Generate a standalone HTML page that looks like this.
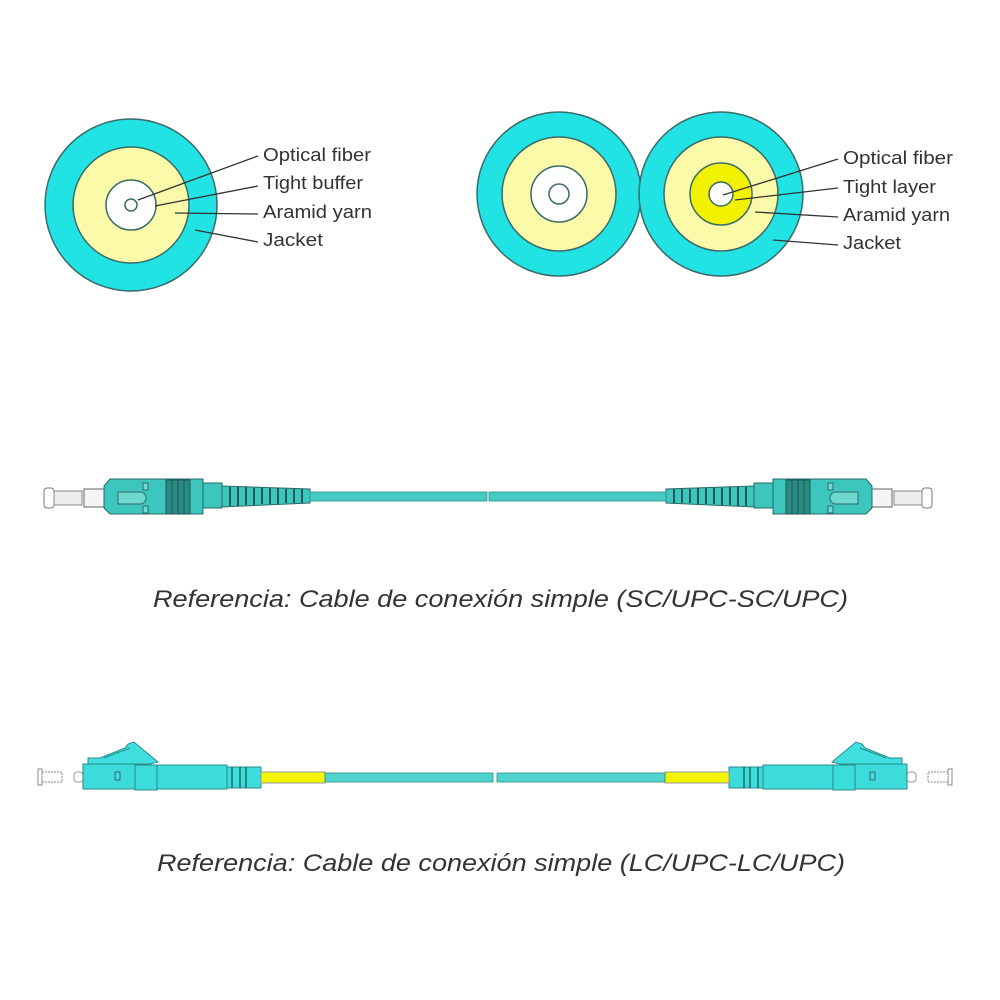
<!DOCTYPE html>
<html><head><meta charset="utf-8"><style>
html,body{margin:0;padding:0;background:#fff;}
svg{display:block;}
</style></head><body>
<svg width="1000" height="1000" viewBox="0 0 1000 1000" xmlns="http://www.w3.org/2000/svg">
<rect width="1000" height="1000" fill="#fff"/>
<g stroke="#3a6a6a" stroke-width="1.5">
<circle cx="131" cy="205" r="86" fill="#22e3e3"/>
<circle cx="131" cy="205" r="58" fill="#fafaa8"/>
<circle cx="131" cy="205" r="25" fill="#fff"/>
<circle cx="131" cy="205" r="6" fill="#fff"/>
</g>
<g stroke="#333" stroke-width="1.3" fill="none">
<line x1="138" y1="200" x2="258" y2="156"/>
<line x1="155" y1="206" x2="258" y2="186"/>
<line x1="175" y1="213" x2="258" y2="214"/>
<line x1="195" y1="230" x2="258" y2="242"/>
</g>
<g font-family="Liberation Sans, sans-serif" font-size="18" fill="#333" lengthAdjust="spacingAndGlyphs">
<text x="263" y="161" textLength="108" lengthAdjust="spacingAndGlyphs">Optical fiber</text>
<text x="263" y="189" textLength="100" lengthAdjust="spacingAndGlyphs">Tight buffer</text>
<text x="263" y="218" textLength="109" lengthAdjust="spacingAndGlyphs">Aramid yarn</text>
<text x="263" y="246" textLength="60" lengthAdjust="spacingAndGlyphs">Jacket</text>
</g>
<g stroke="#3a6a6a" stroke-width="1.5">
<circle cx="559" cy="194" r="82" fill="#22e3e3"/>
<circle cx="559" cy="194" r="57" fill="#fafaa8"/>
<circle cx="559" cy="194" r="28" fill="#fff"/>
<circle cx="559" cy="194" r="10" fill="#fff"/>
<circle cx="721" cy="194" r="82" fill="#22e3e3"/>
<circle cx="721" cy="194" r="57" fill="#fafaa8"/>
<circle cx="721" cy="194" r="31" fill="#f2f200"/>
<circle cx="721" cy="194" r="12" fill="#fff"/>
</g>
<g stroke="#333" stroke-width="1.3" fill="none">
<line x1="723" y1="195" x2="838" y2="159"/>
<line x1="735" y1="200" x2="838" y2="188"/>
<line x1="755" y1="212" x2="838" y2="217"/>
<line x1="773" y1="240" x2="838" y2="245"/>
</g>
<g font-family="Liberation Sans, sans-serif" font-size="18" fill="#333">
<text x="843" y="164" textLength="110" lengthAdjust="spacingAndGlyphs">Optical fiber</text>
<text x="843" y="193" textLength="93" lengthAdjust="spacingAndGlyphs">Tight layer</text>
<text x="843" y="221" textLength="107" lengthAdjust="spacingAndGlyphs">Aramid yarn</text>
<text x="843" y="249" textLength="58" lengthAdjust="spacingAndGlyphs">Jacket</text>
</g>

<defs>
<g id="sc">
<rect x="44" y="488" width="10" height="20" rx="3" fill="#fff" stroke="#777"/>
<rect x="54" y="491" width="28" height="14" fill="#eee" stroke="#888"/>
<rect x="84" y="489" width="20" height="18" fill="#f4f4f4" stroke="#666"/>
<path d="M104 486 L110 479 H203 V514 H110 L104 508 Z" fill="#3cc6bd" stroke="#2a6b66"/>
<path d="M118 492 H140 A6 6 0 0 1 140 504 H118 Z" fill="#6fd8d0" stroke="#2a6b66"/>
<rect x="143" y="483" width="5" height="7" fill="#6fd8d0" stroke="#2a6b66"/>
<rect x="143" y="506" width="5" height="7" fill="#6fd8d0" stroke="#2a6b66"/>
<rect x="166" y="480" width="24" height="34" fill="#2a8a84" stroke="#1f5a56"/>
<line x1="172" y1="480" x2="172" y2="514" stroke="#1f5a56"/>
<line x1="178" y1="480" x2="178" y2="514" stroke="#1f5a56"/>
<line x1="184" y1="480" x2="184" y2="514" stroke="#1f5a56"/>
<path d="M203 483 H222 V508 H203 Z" fill="#3cc6bd" stroke="#2a6b66"/>
<path d="M222 486 L310 489 V503 L222 507 Z" fill="#3cc6bd" stroke="#2a6b66"/>
<g stroke="#1f5a56" stroke-width="2">
<line x1="230" y1="487" x2="230" y2="506"/><line x1="238" y1="487" x2="238" y2="506"/>
<line x1="246" y1="487" x2="246" y2="505"/><line x1="254" y1="488" x2="254" y2="505"/>
<line x1="262" y1="488" x2="262" y2="504"/><line x1="270" y1="488" x2="270" y2="504"/>
<line x1="278" y1="488" x2="278" y2="504"/><line x1="286" y1="489" x2="286" y2="503"/>
<line x1="294" y1="489" x2="294" y2="503"/><line x1="302" y1="489" x2="302" y2="503"/>
</g>
<rect x="310" y="492" width="177" height="9" fill="#45cbc3" stroke="#2f8c86" stroke-width="0.8"/>
</g>
<g id="lc">
<rect x="38" y="769" width="4" height="16" fill="#fff" stroke="#888"/>
<rect x="42" y="772" width="20" height="10" fill="#fff" stroke="#888" stroke-dasharray="2 1"/>
<rect x="74" y="772" width="9" height="10" rx="3" fill="#fff" stroke="#999"/>
<path d="M88 764 V758 H100 L125 748 L128 744 L134 742 L158 762 L150 764 Z" fill="#40dede" stroke="#2a8a8a"/>
<path d="M104 758 L130 748" stroke="#2a8a8a" fill="none"/>
<rect x="83" y="764" width="55" height="25" fill="#3ddcdc" stroke="#2a8a8a"/>
<rect x="115" y="772" width="5" height="8" fill="#3ddcdc" stroke="#2a6b6b"/>
<rect x="135" y="765" width="22" height="25" fill="#3ddcdc" stroke="#2a8a8a"/>
<rect x="157" y="765" width="70" height="24" fill="#3ddcdc" stroke="#2a8a8a"/>
<rect x="227" y="767" width="34" height="21" fill="#3ddcdc" stroke="#2a8a8a"/>
<g stroke="#1f6a6a" stroke-width="1.5"><line x1="232" y1="767" x2="232" y2="788"/><line x1="240" y1="767" x2="240" y2="788"/><line x1="246" y1="767" x2="246" y2="788"/></g>
<rect x="261" y="772" width="64" height="11" fill="#f5f500" stroke="#999"/>
<rect x="325" y="773" width="168" height="9" fill="#4fd3cd" stroke="#2f8c86" stroke-width="0.8"/>
</g>
</defs>
<use href="#sc"/>
<use href="#sc" transform="translate(976 0) scale(-1 1)"/>
<use href="#lc"/>
<use href="#lc" transform="translate(990 0) scale(-1 1)"/>

<g font-family="Liberation Sans, sans-serif" font-size="24" font-style="italic" fill="#333">
<text x="153" y="607" textLength="695" lengthAdjust="spacingAndGlyphs">Referencia: Cable de conexión simple (SC/UPC-SC/UPC)</text>
<text x="157" y="871" textLength="688" lengthAdjust="spacingAndGlyphs">Referencia: Cable de conexión simple (LC/UPC-LC/UPC)</text>
</g>
</svg>
</body></html>
